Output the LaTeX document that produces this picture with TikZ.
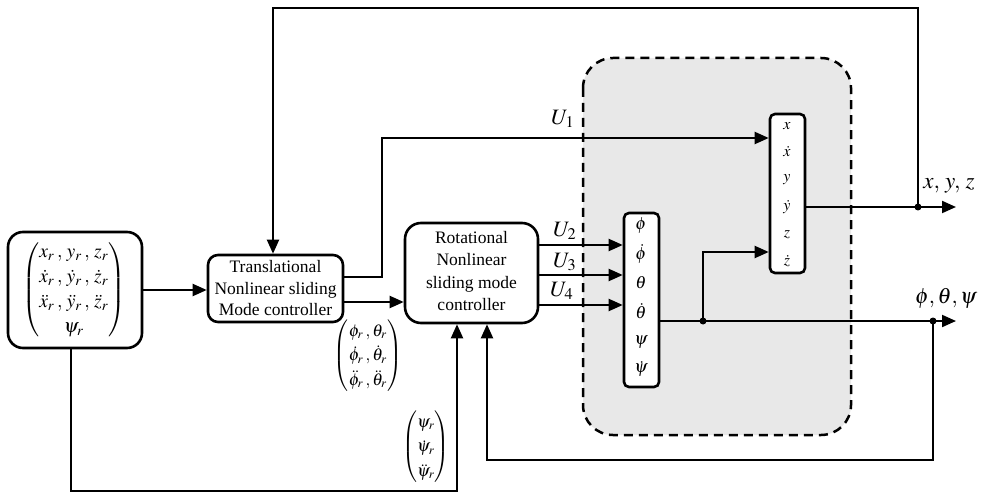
\documentclass[tikz,border=0pt]{standalone}
\usepackage{amsmath}
\usepackage{mathptmx}
\usepackage[no-math]{fontspec}
\setmainfont{Liberation Serif}
\usetikzlibrary{arrows.meta}
\newcommand{\mth}[2]{\scalebox{#1}{\normalsize$#2$}}
\newcommand{\cm}{\,,\,}
\tikzset{
  blk/.style={draw, line width=2.6pt, rounded corners=10pt, fill=white, align=center, inner sep=0pt},
  vbox/.style={draw, line width=2.6pt, rounded corners=5pt, fill=white, inner sep=0pt},
  wire/.style={line width=2pt},
  arr/.style={wire, -{Triangle[length=14pt,width=12pt]}},
  dot/.style={circle, fill=black, inner sep=0pt, minimum size=7pt},
  boxtxt/.style={font=\fontsize{17.5}{21.5}\selectfont, align=center},
  plain/.style={inner sep=0pt}
}
\begin{document}
\begin{tikzpicture}[x=1pt,y=-1pt]
\useasboundingbox (0,0) rectangle (981,494);
% plant region
\draw[line width=2.5pt, dash pattern=on 9pt off 6pt, fill=black!9, rounded corners=30pt] (583,58) rectangle (851,435);

% blocks
\node[blk, rounded corners=15pt, minimum width=134, minimum height=116] (in) at (75,290) {};
\node[plain] (inm) at (74,290) {\mth{1.95}{\renewcommand{\arraystretch}{1.08}\left(\begin{array}{@{}c@{}} x_r\cm y_r\cm z_r\\ \dot x_r\cm \dot y_r\cm \dot z_r\\ \ddot x_r\cm \ddot y_r\cm \ddot z_r\\ \psi_r\end{array}\right)}};
\node[blk, minimum width=135, minimum height=67] (tr) at (275.5,288.5) {};
\node[boxtxt] (trt) at (275.5,288.5) {Translational\\Nonlinear sliding\\Mode controller};
\node[blk, rounded corners=16pt, minimum width=133, minimum height=100] (rot) at (471.5,273) {};
\node[boxtxt, font=\fontsize{17.5}{22.5}\selectfont] (rott) at (471.5,271) {Rotational\\Nonlinear\\sliding mode\\controller};
\node[vbox, minimum width=35, minimum height=159] (xyz) at (787.5,193.5) {};
\node[vbox, minimum width=35, minimum height=174] (ang) at (641.5,300) {};

% items in the state boxes
\node[plain] (i1) at (787,126) {\mth{1.6}{x}};
\node[plain] (i2) at (787,152) {\mth{1.6}{\dot x}};
\node[plain] (i3) at (787,180) {\mth{1.6}{y}};
\node[plain] (i4) at (787,207) {\mth{1.6}{\dot y}};
\node[plain] (i5) at (787,235) {\mth{1.6}{z}};
\node[plain] (i6) at (787,261) {\mth{1.6}{\dot z}};
\node[plain] (a1) at (641,226) {\mth{1.75}{\phi}};
\node[plain] (a2) at (641,254) {\mth{1.75}{\dot\phi}};
\node[plain] (a3) at (641,283) {\mth{1.75}{\theta}};
\node[plain] (a4) at (641,311) {\mth{1.75}{\dot\theta}};
\node[plain] (a5) at (641,342) {\mth{1.75}{\psi}};
\node[plain] (a6) at (641,369) {\mth{1.75}{\dot\psi}};

% reference matrices
\node[plain] (pm) at (368,356) {\mth{1.7}{\renewcommand{\arraystretch}{1.2}\left(\begin{array}{@{}c@{}}\phi_r\,,\theta_r\\ \dot\phi_r\,,\dot\theta_r\\ \ddot\phi_r\,,\ddot\theta_r\end{array}\right)}};
\node[plain] (psm) at (426,447) {\mth{1.7}{\renewcommand{\arraystretch}{1.2}\left(\begin{array}{@{}c@{}}\psi_r\\ \dot\psi_r\\ \ddot\psi_r\end{array}\right)}};

% coordinates
\coordinate (tl) at (273,8);
\coordinate (o1) at (956,207);
\coordinate (o2) at (956,321);
\coordinate (fb) at (487,460);
\coordinate (ib) at (457,491);
\node[dot] (j1) at (918,207) {};
\node[dot] (j2) at (703,321) {};
\node[dot] (j3) at (933,321) {};

% connectors
\draw[arr] (in.east |- 0,290) -- (tr.west |- 0,290);
\draw[arr] (j1.center) |- (tl) -- (tl |- tr.north);
\draw[arr] (tr.east |- 0,277) -| (382,138) -- (xyz.west |- 0,138);
\draw[arr] (tr.east |- 0,302) -- (rot.west |- 0,302);
\draw[arr] (rot.east |- 0,245) -- (ang.west |- 0,245);
\draw[arr] (rot.east |- 0,275) -- (ang.west |- 0,275);
\draw[arr] (rot.east |- 0,305) -- (ang.west |- 0,305);
\draw[arr] (xyz.east |- 0,207) -- (o1);
\draw[arr] (ang.east |- 0,321) -- (o2);
\draw[arr] (j2.center) |- (xyz.west |- 0,252);
\draw[arr] (j3.center) |- (fb) -- (fb |- rot.south);
\draw[arr] (in.south -| 71,0) |- (ib) -- (ib |- rot.south);

% labels
\node[plain] (u1) at (563,119) {\mth{2.2}{U_1}};
\node[plain] (u2) at (565,231) {\mth{2.2}{U_2}};
\node[plain] (u3) at (565,262) {\mth{2.2}{U_3}};
\node[plain] (u4) at (562,291) {\mth{2.2}{U_4}};
\node[plain] (lx) at (949,186) {\mth{2.3}{x,\,y,\,z}};
\node[plain] (lp) at (946,298) {\mth{2.2}{\phi,\theta,\psi}};
\end{tikzpicture}
\end{document}
